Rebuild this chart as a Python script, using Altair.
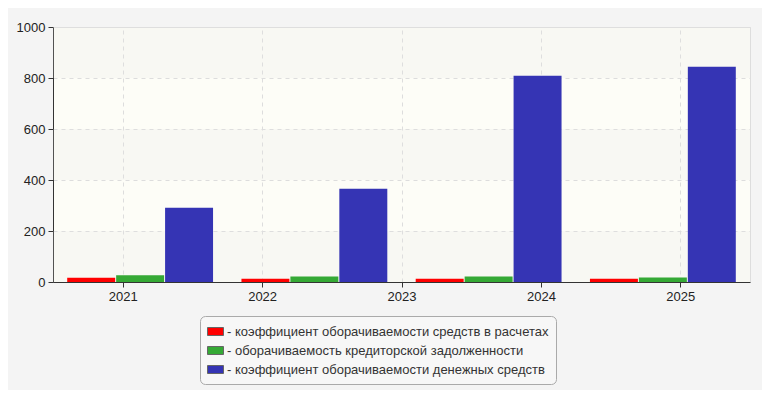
import altair as alt
import pandas as pd

# --- data ---
axis_years = ["2021", "2022", "2023", "2024", "2025"]
groups = ["g1", "g2", "g3", "g4"]
series = [
    "коэффициент оборачиваемости средств в расчетах",
    "оборачиваемость кредиторской задолженности",
    "коэффициент оборачиваемости денежных средств",
]
red_vals = [17, 13, 13, 13]
green_vals = [26, 22, 22, 18]
blue_vals = [291, 366, 809, 844]
colors = ["#ff0000", "#35a935", "#3534b4"]
band_lo = [0, 400, 800]
band_hi = [200, 600, 1000]
y_ticks = [0, 200, 400, 600, 800, 1000]

FONT = "Liberation Sans"

rows = []
for s, vals in zip(series, [red_vals, green_vals, blue_vals]):
    for g, v in zip(groups, vals):
        rows.append({"group": g, "series": s, "value": v})
df = pd.DataFrame(rows)
df_axis = pd.DataFrame({"year": axis_years})
df_bands = pd.DataFrame({"lo": band_lo, "hi": band_hi})

y_scale = alt.Scale(domain=[0, 1000], nice=False)
y_axis = alt.Axis(
    values=y_ticks,
    format="d",
    title=None,
    grid=True,
    gridDash=[4, 4],
    gridColor="#dddddd",
    domainColor="#333333",
    tickColor="#333333",
    tickSize=5,
    labelPadding=3,
    labelFont=FONT,
    labelFontSize=13,
    labelColor="#222222",
)

bands = alt.Chart(df_bands).mark_rect(fill="#e4e4e4", opacity=0.18).encode(
    y=alt.Y("lo:Q", scale=y_scale, axis=y_axis),
    y2="hi:Q",
)

axis_layer = alt.Chart(df_axis).mark_point(opacity=0).encode(
    x=alt.X(
        "year:N",
        sort=axis_years,
        scale=alt.Scale(paddingInner=0, paddingOuter=0),
        axis=alt.Axis(
            orient="bottom",
            title=None,
            labelAngle=0,
            grid=True,
            gridDash=[4, 4],
            gridColor="#dddddd",
            domainColor="#333333",
            tickColor="#333333",
            tickSize=5,
            labelPadding=3,
            labelFont=FONT,
            labelFontSize=13,
            labelColor="#222222",
        ),
    )
)

bars = alt.Chart(df).mark_bar().encode(
    x=alt.X(
        "group:N",
        sort=groups,
        axis=None,
        scale=alt.Scale(paddingInner=0.163, paddingOuter=0.0815),
    ),
    xOffset=alt.XOffset("series:N", sort=series, scale=alt.Scale(paddingInner=0.02)),
    y=alt.Y("value:Q", scale=y_scale, axis=y_axis),
    color=alt.Color(
        "series:N",
        sort=series,
        scale=alt.Scale(domain=series, range=colors),
        legend=alt.Legend(
            title=None,
            orient="none",
            legendX=147,
            legendY=289,
            direction="vertical",
            symbolType="M-1,-0.5H1V0.5H-1Z",
            symbolSize=256,
            symbolStrokeColor="#666666",
            symbolStrokeWidth=1,
            symbolOpacity=1,
            labelExpr="'- ' + datum.label + '\u00a0'",
            labelFont=FONT,
            labelFontSize=13,
            labelColor="#333333",
            labelOffset=3,
            labelLimit=500,
            rowPadding=3,
            padding=7,
            strokeColor="#aaaaaa",
            fillColor="#f7f7f7",
            cornerRadius=5,
        ),
    ),
)

chart = (
    alt.layer(bands, axis_layer, bars)
    .resolve_scale(x="independent")
    .properties(
        width=697,
        height=255,
        background="#f4f4f4",
        autosize=alt.AutoSizeParams(type="none"),
        padding={"left": 45, "top": 19, "right": 12, "bottom": 108},
    )
    .configure_view(stroke="#dddddd", fill="#fdfdf7")
)

chart.save("out.html", embed_options={"renderer": "svg", "actions": False})
